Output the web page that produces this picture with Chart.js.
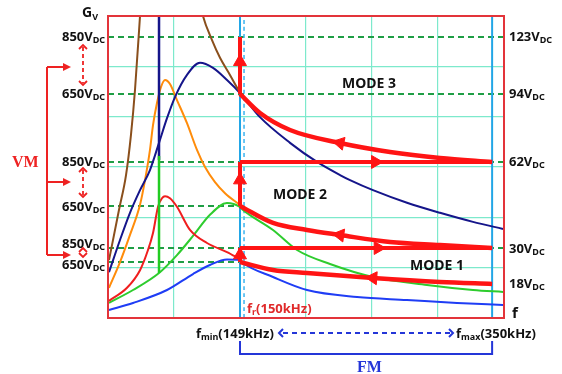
<!DOCTYPE html>
<html><head><meta charset="utf-8">
<script src="https://cdn.jsdelivr.net/npm/chart.js@4"></script>
<style>html,body{margin:0;padding:0;background:#fff}canvas{display:block}</style>
</head><body>
<canvas id="c" width="562" height="374"></canvas>
<script>
// ---- data (normalised units: x = switching frequency, y = voltage gain Gv) ----
const brownRise  = [[0.015,1.15],[0.167,2.15],[0.273,2.84],[0.348,3.64],[0.409,4.53],[0.485,6.0],[0.5,6.3]];
const brownFall  = [[1.39,6.3],[1.439,6.0],[1.576,5.52],[1.697,5.17],[1.848,4.83],[2.0,4.47]];
const navyCurve  = [[0.015,0.91],[0.182,1.55],[0.333,2.09],[0.485,2.54],[0.636,2.94],[0.773,3.48],[0.894,3.97],[1.015,4.39],[1.197,4.83],[1.394,5.07],[1.591,4.97],[1.803,4.73],[2.0,4.47],[2.303,3.99],[2.758,3.48],[3.167,3.10],[3.515,2.84],[3.667,2.74],[4.015,2.54],[4.53,2.29],[5.03,2.09],[5.53,1.91],[5.985,1.77]];
const navyPole   = [[0.773,6.0],[0.773,3.14]];
const greenPole  = [[0.773,3.22],[0.773,0.894]];
const orangeCurve= [[0.015,0.60],[0.182,1.11],[0.333,1.65],[0.485,2.25],[0.561,2.74],[0.636,3.34],[0.682,3.83],[0.742,4.27],[0.803,4.59],[0.864,4.73],[0.939,4.65],[1.045,4.33],[1.197,3.87],[1.348,3.34],[1.47,3.0],[1.621,2.70],[1.773,2.48],[2.0,2.245]];
const redCurve   = [[0.015,0.34],[0.288,0.60],[0.485,0.95],[0.606,1.35],[0.682,1.69],[0.758,2.21],[0.818,2.38],[0.864,2.42],[0.939,2.38],[1.045,2.21],[1.242,1.75],[1.5,1.49],[1.803,1.31],[2.0,1.17]];
const greenCurve = [[0.015,0.30],[0.379,0.556],[0.773,0.894],[1.045,1.25],[1.288,1.63],[1.545,2.05],[1.803,2.285],[2.0,2.205],[2.045,2.146],[2.5,1.748],[2.864,1.351],[3.364,1.073],[4.015,0.815],[4.833,0.656],[5.53,0.556],[5.985,0.517]];
const blueCurve  = [[0.015,0.159],[0.379,0.298],[0.894,0.556],[1.288,0.874],[1.545,1.053],[1.803,1.162],[2.0,1.152],[2.045,1.093],[2.5,0.815],[3.015,0.556],[3.773,0.417],[4.53,0.358],[5.288,0.298],[5.985,0.258]];
const mode3Path  = [[2.0,4.451],[2.303,4.073],[2.758,3.735],[3.515,3.477],[4.273,3.298],[5.03,3.179],[5.82,3.10]];
const mode2Path  = [[2.0,2.225],[2.5,1.888],[3.015,1.748],[3.515,1.649],[4.273,1.510],[5.03,1.450],[5.82,1.391]];
const mode1Path  = [[2.0,1.113],[2.5,0.954],[3.015,0.894],[4.015,0.795],[5.03,0.715],[5.82,0.676]];
const vinLevels  = [5.583, 4.451, 3.100, 2.225, 1.391, 1.113];
const vinLabels  = ['850','650','850','650','850','650'];
const voLevels   = [5.583, 4.451, 3.100, 1.371, 0.676];
const voLabels   = ['123','94','62','30','18'];
const fMin = 2.0, fRes = 2.061, fMax = 5.82;
const arrowX     = [2.0, 2.0, 2.0, 4.05, 4.09, 3.515, 3.515, 4.015];
const arrowY     = [5.09, 2.74, 1.25, 3.10, 1.391, 3.477, 1.649, 0.795];
const arrowAngle = [0, 0, 0, 90, 90, 282, 278, 274];

// ---- datasets ----
const ds = [];
function line(data, color, width, order, extra) {
  ds.push(Object.assign({type:'line', data, borderColor:color, borderWidth:width, pointRadius:0,
    fill:false, order, clip:0, cubicInterpolationMode:'monotone'}, extra||{}));
}
vinLevels.forEach((v,i) => {
  const full = (i===0 || i===1 || i===2 || i===4);
  line([[0,v],[full?6:fMin,v]], '#1f9e45', 2, 9, {borderDash:[6,4]});
});
line([[fMin,0],[fMin,6]], '#22a6e6', 2, 8);
line([[fRes,0],[fRes,6]], '#3ab4f0', 1.5, 8, {borderDash:[4,3]});
line([[fMax,0],[fMax,6]], '#22a6e6', 2, 8);
line(brownRise, '#8a4f1c', 2, 5);
line(brownFall, '#8a4f1c', 2, 5);
line(navyPole, '#15158a', 2.5, 5);
line(greenPole, '#22cc22', 2.5, 4);
line(navyCurve, '#15158a', 2, 5);
line(orangeCurve, '#ff8c0a', 2, 5);
line(redCurve, '#f01e1e', 2, 5);
line(greenCurve, '#2ecc2e', 2, 5);
line(blueCurve, '#1f3df5', 2, 5);
const RED = '#ff1414';
line(mode3Path, RED, 4.5, 1);
line(mode2Path, RED, 4.5, 1);
line(mode1Path, RED, 4.5, 1);
line([[fMin,vinLevels[1]],[fMin,vinLevels[0]]], RED, 4, 1);
line([[fMin,vinLevels[3]],[fMin,vinLevels[2]]], RED, 4, 1);
line([[fMin,vinLevels[5]],[fMin,vinLevels[4]]], RED, 4, 1);
line([[fMin,vinLevels[2]],[fMax,vinLevels[2]]], RED, 4, 1);
line([[fMin,vinLevels[4]],[fMax,vinLevels[4]]], RED, 4, 1);
ds.push({type:'scatter', order:0, clip:false,
  data: arrowX.map((x,i)=>({x, y:arrowY[i]})),
  pointStyle:'triangle', pointRadius:7.5, rotation: arrowAngle,
  backgroundColor:RED, borderColor:RED, borderWidth:1});

// ---- text / annotation plugin ----
const FONT = '"Noto Sans", "DejaVu Sans", sans-serif';
function rich(ctx, x, y, parts, color) {
  let cx = x;
  ctx.fillStyle = color; ctx.textBaseline = 'alphabetic'; ctx.textAlign = 'left';
  parts.forEach(p => {
    ctx.font = (p.b===false?'':'bold ') + p.s + 'px ' + (p.f || FONT);
    ctx.fillText(p.t, cx, y + (p.dy||0));
    cx += ctx.measureText(p.t).width;
  });
}
function chevron(ctx, x, y, dir, s) {
  ctx.beginPath();
  if (dir==='up')   { ctx.moveTo(x-s,y+s); ctx.lineTo(x,y); ctx.lineTo(x+s,y+s); }
  if (dir==='down') { ctx.moveTo(x-s,y-s); ctx.lineTo(x,y); ctx.lineTo(x+s,y-s); }
  if (dir==='left') { ctx.moveTo(x+s,y-s); ctx.lineTo(x,y); ctx.lineTo(x+s,y+s); }
  if (dir==='right'){ ctx.moveTo(x-s,y-s); ctx.lineTo(x,y); ctx.lineTo(x-s,y+s); }
  ctx.stroke();
}
function triHead(ctx, x, y, len, half) {
  ctx.beginPath(); ctx.moveTo(x,y); ctx.lineTo(x-len,y-half); ctx.lineTo(x-len,y+half); ctx.closePath(); ctx.fill();
}
const annot = {
  id:'annot',
  afterDraw(chart) {
    const ctx = chart.ctx, a = chart.chartArea, X = v=>chart.scales.x.getPixelForValue(v), Y = v=>chart.scales.y.getPixelForValue(v);
    ctx.save();
    ctx.strokeStyle = '#e3343a'; ctx.lineWidth = 2;
    ctx.strokeRect(a.left, a.top, a.right-a.left, a.bottom-a.top);
    rich(ctx, 82, 17, [{t:'G',s:14},{t:'V',s:9,dy:3}], '#111');
    const offs = [0,0,0,0,-4,3];
    vinLevels.forEach((v,i) => rich(ctx, 62, Y(v)+offs[i]+4.5, [{t:vinLabels[i]+'V',s:13},{t:'DC',s:9,dy:2}], '#111'));
    voLevels.forEach((v,i) => rich(ctx, 509, Y(v)+4.5, [{t:voLabels[i]+'V',s:13},{t:'DC',s:9,dy:2}], '#111'));
    rich(ctx, 342, 88, [{t:'MODE 3',s:14}], '#111');
    rich(ctx, 273, 199, [{t:'MODE 2',s:14}], '#111');
    rich(ctx, 410, 270, [{t:'MODE 1',s:14}], '#111');
    rich(ctx, 512, 318, [{t:'f',s:15}], '#111');
    rich(ctx, 247, 313, [{t:'f',s:13},{t:'r',s:9,dy:2},{t:'(150kHz)',s:13}], '#e02a2a');
    rich(ctx, 196, 338, [{t:'f',s:13},{t:'min',s:9,dy:2},{t:'(149kHz)',s:13}], '#111');
    rich(ctx, 456, 338, [{t:'f',s:13},{t:'max',s:9,dy:2},{t:'(350kHz)',s:13}], '#111');
    const BLUE = '#2436d8';
    ctx.strokeStyle = BLUE; ctx.lineWidth = 2;
    ctx.setLineDash([5,4]); ctx.beginPath(); ctx.moveTo(283,333); ctx.lineTo(450,333); ctx.stroke(); ctx.setLineDash([]);
    chevron(ctx, 279, 333, 'left', 4); chevron(ctx, 453, 333, 'right', 4);
    ctx.beginPath(); ctx.moveTo(X(fMin),341); ctx.lineTo(X(fMin),354); ctx.lineTo(X(fMax),354); ctx.lineTo(X(fMax),341); ctx.stroke();
    rich(ctx, 357, 372, [{t:'FM',s:16,f:'"Liberation Serif", "DejaVu Serif", serif'}], BLUE);
    const R2 = '#ee2222';
    ctx.strokeStyle = R2; ctx.fillStyle = R2; ctx.lineWidth = 2;
    ctx.beginPath(); ctx.moveTo(47,67); ctx.lineTo(47,255); ctx.stroke();
    [67,182,255].forEach(y => { ctx.beginPath(); ctx.moveTo(47,y); ctx.lineTo(64,y); ctx.stroke(); triHead(ctx, 71, y, 8, 4); });
    rich(ctx, 12, 167, [{t:'VM',s:16,f:'"Liberation Serif", "DejaVu Serif", serif'}], R2);
    ctx.lineWidth = 1.8;
    ctx.setLineDash([4,3]);
    ctx.beginPath(); ctx.moveTo(83,47); ctx.lineTo(83,83); ctx.stroke();
    ctx.beginPath(); ctx.moveTo(83,170); ctx.lineTo(83,195); ctx.stroke();
    ctx.setLineDash([]);
    chevron(ctx,83,45,'up',4); chevron(ctx,83,85,'down',4);
    chevron(ctx,83,168,'up',4); chevron(ctx,83,197,'down',4);
    chevron(ctx,83,248,'up',4); chevron(ctx,83,257,'down',4);
    ctx.restore();
  }
};

new Chart(document.getElementById('c'), {
  data: {datasets: ds},
  options: {
    responsive:false, animation:false, devicePixelRatio:1,
    layout:{padding:{left:108, right:58, top:16, bottom:56}},
    plugins:{legend:{display:false}, tooltip:{enabled:false}},
    scales:{
      x:{type:'linear', min:0, max:6, ticks:{display:false, stepSize:1}, grid:{color:'#7de9cc', drawTicks:false, lineWidth:1.2}, border:{display:false}},
      y:{type:'linear', min:0, max:6, ticks:{display:false, stepSize:1}, grid:{color:'#7de9cc', drawTicks:false, lineWidth:1.2}, border:{display:false}}
    }
  },
  plugins:[annot]
});
</script>
</body></html>
